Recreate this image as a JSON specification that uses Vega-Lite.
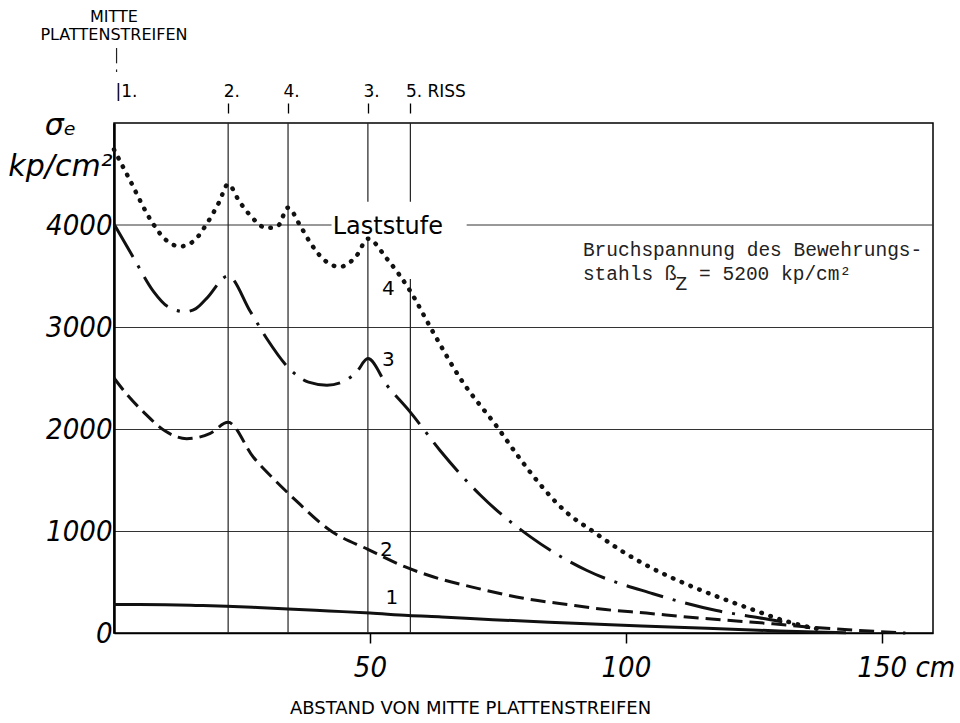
{
  "$schema": "https://vega.github.io/schema/vega-lite/v6.json",
  "width": 819,
  "height": 510,
  "autosize": {"type": "none"},
  "padding": {"left": 114, "top": 123, "right": 27, "bottom": 90},
  "background": "white",
  "config": {"view": {"stroke": "black", "strokeWidth": 1.5}, "font": "DejaVu Sans"},
  "datasets": {
    "curves": [
      {"stage": "1", "x": 0, "y": 280}, {"stage": "1", "x": 5, "y": 279}, {"stage": "1", "x": 10, "y": 276}, {"stage": "1", "x": 16, "y": 270}, {"stage": "1", "x": 22, "y": 262}, {"stage": "1", "x": 28, "y": 250}, {"stage": "1", "x": 34, "y": 236}, {"stage": "1", "x": 42, "y": 216}, {"stage": "1", "x": 50, "y": 196}, {"stage": "1", "x": 57.5, "y": 172}, {"stage": "1", "x": 64, "y": 158}, {"stage": "1", "x": 74, "y": 131}, {"stage": "1", "x": 85, "y": 105}, {"stage": "1", "x": 97, "y": 82}, {"stage": "1", "x": 110, "y": 56}, {"stage": "1", "x": 122, "y": 35}, {"stage": "1", "x": 130, "y": 20}, {"stage": "1", "x": 137, "y": 9}, {"stage": "1", "x": 143, "y": 3},
      {"stage": "2", "x": 0, "y": 2500}, {"stage": "2", "x": 2.5, "y": 2340}, {"stage": "2", "x": 5.7, "y": 2170}, {"stage": "2", "x": 10, "y": 1980}, {"stage": "2", "x": 14.2, "y": 1905}, {"stage": "2", "x": 18.7, "y": 1955}, {"stage": "2", "x": 22.3, "y": 2065}, {"stage": "2", "x": 27.2, "y": 1725}, {"stage": "2", "x": 31, "y": 1520}, {"stage": "2", "x": 35.3, "y": 1310}, {"stage": "2", "x": 42.4, "y": 1000}, {"stage": "2", "x": 49.6, "y": 820}, {"stage": "2", "x": 56.8, "y": 650}, {"stage": "2", "x": 63.7, "y": 530}, {"stage": "2", "x": 70, "y": 450}, {"stage": "2", "x": 80, "y": 340}, {"stage": "2", "x": 90, "y": 270}, {"stage": "2", "x": 96, "y": 230}, {"stage": "2", "x": 104, "y": 195}, {"stage": "2", "x": 112.5, "y": 155}, {"stage": "2", "x": 121.6, "y": 118}, {"stage": "2", "x": 128.7, "y": 90}, {"stage": "2", "x": 135, "y": 62}, {"stage": "2", "x": 145.6, "y": 25}, {"stage": "2", "x": 154.6, "y": 0},
      {"stage": "3", "x": 0, "y": 4010}, {"stage": "3", "x": 3.8, "y": 3680}, {"stage": "3", "x": 7.7, "y": 3350}, {"stage": "3", "x": 10.5, "y": 3200}, {"stage": "3", "x": 13.9, "y": 3150}, {"stage": "3", "x": 16, "y": 3180}, {"stage": "3", "x": 18.1, "y": 3280}, {"stage": "3", "x": 22.3, "y": 3500}, {"stage": "3", "x": 26.6, "y": 3155}, {"stage": "3", "x": 29.8, "y": 2890}, {"stage": "3", "x": 34.2, "y": 2595}, {"stage": "3", "x": 38, "y": 2460}, {"stage": "3", "x": 41.6, "y": 2430}, {"stage": "3", "x": 45, "y": 2470}, {"stage": "3", "x": 47.4, "y": 2560}, {"stage": "3", "x": 49.6, "y": 2690}, {"stage": "3", "x": 53.3, "y": 2430}, {"stage": "3", "x": 57.8, "y": 2170}, {"stage": "3", "x": 63.7, "y": 1790}, {"stage": "3", "x": 71.5, "y": 1355}, {"stage": "3", "x": 81.3, "y": 945}, {"stage": "3", "x": 92.3, "y": 615}, {"stage": "3", "x": 105.3, "y": 385}, {"stage": "3", "x": 117.7, "y": 220}, {"stage": "3", "x": 126, "y": 150}, {"stage": "3", "x": 131, "y": 105}, {"stage": "3", "x": 136, "y": 50},
      {"stage": "4", "x": 0, "y": 4740}, {"stage": "4", "x": 3, "y": 4450}, {"stage": "4", "x": 7.4, "y": 4030}, {"stage": "4", "x": 10, "y": 3860}, {"stage": "4", "x": 12.9, "y": 3790}, {"stage": "4", "x": 15.5, "y": 3840}, {"stage": "4", "x": 18.1, "y": 4010}, {"stage": "4", "x": 20.5, "y": 4220}, {"stage": "4", "x": 22.3, "y": 4400}, {"stage": "4", "x": 24.5, "y": 4230}, {"stage": "4", "x": 26.6, "y": 4095}, {"stage": "4", "x": 29.8, "y": 3970}, {"stage": "4", "x": 32, "y": 3990}, {"stage": "4", "x": 34, "y": 4170}, {"stage": "4", "x": 36.3, "y": 4000}, {"stage": "4", "x": 38.3, "y": 3830}, {"stage": "4", "x": 41, "y": 3660}, {"stage": "4", "x": 44.1, "y": 3590}, {"stage": "4", "x": 47.4, "y": 3700}, {"stage": "4", "x": 49.6, "y": 3865}, {"stage": "4", "x": 53.3, "y": 3670}, {"stage": "4", "x": 57.9, "y": 3350}, {"stage": "4", "x": 62, "y": 2980}, {"stage": "4", "x": 67.6, "y": 2500}, {"stage": "4", "x": 75, "y": 2010}, {"stage": "4", "x": 79, "y": 1730}, {"stage": "4", "x": 83.2, "y": 1460}, {"stage": "4", "x": 88, "y": 1200}, {"stage": "4", "x": 93.6, "y": 995}, {"stage": "4", "x": 99, "y": 810}, {"stage": "4", "x": 105.3, "y": 630}, {"stage": "4", "x": 112, "y": 475}, {"stage": "4", "x": 119, "y": 335}, {"stage": "4", "x": 125, "y": 225}, {"stage": "4", "x": 131, "y": 120}, {"stage": "4", "x": 135, "y": 67}, {"stage": "4", "x": 138, "y": 35}
    ],
    "cracks": [
      {"x": 22.3, "y": 0, "y2": 5000},
      {"x": 34, "y": 0, "y2": 5000},
      {"x": 49.6, "y": 0, "y2": 3865},
      {"x": 49.6, "y": 4228, "y2": 5000},
      {"x": 57.9, "y": 0, "y2": 3470},
      {"x": 57.9, "y": 4228, "y2": 5000},
      {"x": 0.5, "y": 5585, "y2": 5735},
      {"x": 0.5, "y": 5500, "y2": 5525}
    ],
    "grid": [
      {"x": 0, "x2": 42.5, "y": 4000},
      {"x": 68.9, "x2": 160, "y": 4000}
    ],
    "notes": [
      {"role": "stage", "x": 54.3, "y": 344, "text": "1"},
      {"role": "stage", "x": 53.2, "y": 810, "text": "2"},
      {"role": "stage", "x": 53.6, "y": 2680, "text": "3"},
      {"role": "stage", "x": 53.6, "y": 3375, "text": "4"},
      {"role": "laststufe", "x": 53.5, "y": 3985, "text": "Laststufe"},
      {"role": "note", "x": 91.6, "y": 3697, "text": "Bruchspannung des Bewehrungs-"},
      {"role": "note", "x": 91.6, "y": 3461, "text": "stahls ß"},
      {"role": "note", "x": 109.7, "y": 3365, "text": "Z"},
      {"role": "note", "x": 114.3, "y": 3461, "text": "= 5200 kp/cm²"},
      {"role": "mitte", "x": 0, "y": 5988, "text": "MITTE"},
      {"role": "mitte", "x": 0, "y": 5811, "text": "PLATTENSTREIFEN"}
    ]
  },
  "layer": [
    {
      "data": {"name": "grid"},
      "mark": {"type": "rule", "color": "#333", "strokeWidth": 1},
      "encoding": {
        "x": {"field": "x", "type": "quantitative", "scale": {"domain": [0, 160], "nice": false, "zero": false}, "axis": null},
        "x2": {"field": "x2"},
        "y": {"field": "y", "type": "quantitative", "scale": {"domain": [0, 5000], "nice": false, "zero": false}, "axis": null}
      }
    },
    {
      "data": {"name": "cracks"},
      "mark": {"type": "rule", "color": "#222", "strokeWidth": 1.2},
      "encoding": {
        "x": {"field": "x", "type": "quantitative", "scale": {"domain": [0, 160], "nice": false, "zero": false},
          "axis": {"orient": "top", "offset": 10, "values": [0, 22.3, 34, 49.6, 57.9], "domain": false, "grid": false, "tickSize": 10, "tickColor": "black", "tickWidth": 1.3,
            "tickOpacity": {"condition": {"test": "datum.value == 0", "value": 0}, "value": 1},
            "labelExpr": "datum.value == 0 ? '|1.' : datum.value < 30 ? '2.' : datum.value < 40 ? '4.' : datum.value < 55 ? '3.' : '5. RISS'",
            "labelAlign": "left",
            "labelOffset": {"condition": {"test": "datum.value == 0", "value": 1}, "value": -5},
            "labelPadding": 3, "labelFont": "DejaVu Sans", "labelFontSize": 17, "labelColor": "black", "labelFlush": false, "labelOverlap": false, "labelBound": false, "title": null}},
        "y": {"field": "y", "type": "quantitative", "scale": {"domain": [0, 5000], "nice": false, "zero": false}, "axis": null},
        "y2": {"field": "y2"}
      }
    },
    {
      "data": {"name": "curves"},
      "transform": [{"filter": "datum.stage == '1'"}],
      "mark": {"type": "line", "color": "#111", "strokeWidth": 3, "interpolate": "monotone"},
      "encoding": {
        "x": {"field": "x", "type": "quantitative", "scale": {"domain": [0, 160], "nice": false, "zero": false},
          "axis": {"orient": "bottom", "values": [50, 100, 150], "format": "d", "tickSize": 10, "tickColor": "black", "tickWidth": 1.5, "domainColor": "black", "domainWidth": 1.5, "grid": false,
            "labelFont": "DejaVu Sans Condensed, Liberation Sans Narrow, DejaVu Sans", "labelFontStyle": "italic", "labelFontSize": 29, "labelColor": "black", "labelPadding": 10, "labelFlush": false, "labelOverlap": false,
            "labelExpr": "datum.value == 150 ? '150 cm' : datum.label",
            "labelAlign": {"condition": {"test": "datum.value == 150", "value": "left"}, "value": "center"},
            "labelOffset": {"condition": {"test": "datum.value == 150", "value": -25}, "value": 0},
            "title": "ABSTAND VON MITTE PLATTENSTREIFEN", "titleFont": "DejaVu Sans", "titleFontSize": 18, "titleFontWeight": "normal", "titleColor": "black", "titleX": 356, "titleY": 80, "titleBaseline": "alphabetic", "titleAlign": "center"}},
        "y": {"field": "y", "type": "quantitative", "scale": {"domain": [0, 5000], "nice": false, "zero": false},
          "axis": {"orient": "left", "values": [0, 1000, 2000, 3000, 4000], "format": "d", "ticks": false, "domain": true, "domainColor": "black", "domainWidth": 2.5, "grid": true, "gridColor": "#333", "gridWidth": 1,
            "gridOpacity": {"condition": {"test": "datum.value == 0 || datum.value == 4000", "value": 0}, "value": 1},
            "labelFont": "DejaVu Sans Condensed, Liberation Sans Narrow, DejaVu Sans", "labelFontStyle": "italic", "labelFontSize": 29, "labelColor": "black", "labelPadding": 2, "labelFlush": false, "labelOverlap": false, "labelBaseline": "middle",
            "title": ["σₑ", "kp/cm²"], "titleAngle": 0, "titleAlign": "center", "titleBaseline": "alphabetic", "titleX": -54, "titleY": 11, "titleLineHeight": 41, "titleFont": "DejaVu Sans", "titleFontStyle": "italic", "titleFontWeight": "normal", "titleFontSize": 30, "titleColor": "black"}}
      }
    },
    {
      "data": {"name": "curves"},
      "transform": [{"filter": "datum.stage == '2'"}],
      "mark": {"type": "line", "color": "#111", "strokeWidth": 3, "strokeDash": [15, 7], "interpolate": "monotone"},
      "encoding": {
        "x": {"field": "x", "type": "quantitative", "scale": {"domain": [0, 160], "nice": false, "zero": false}, "axis": null},
        "y": {"field": "y", "type": "quantitative", "scale": {"domain": [0, 5000], "nice": false, "zero": false}, "axis": null}
      }
    },
    {
      "data": {"name": "curves"},
      "transform": [{"filter": "datum.stage == '3'"}],
      "mark": {"type": "line", "color": "#111", "strokeWidth": 3, "strokeDash": [38, 10, 3, 10], "interpolate": "monotone"},
      "encoding": {
        "x": {"field": "x", "type": "quantitative", "scale": {"domain": [0, 160], "nice": false, "zero": false}, "axis": null},
        "y": {"field": "y", "type": "quantitative", "scale": {"domain": [0, 5000], "nice": false, "zero": false}, "axis": null}
      }
    },
    {
      "data": {"name": "curves"},
      "transform": [{"filter": "datum.stage == '4'"}],
      "mark": {"type": "line", "color": "#111", "strokeWidth": 4.5, "strokeDash": [0.5, 9], "strokeCap": "round", "interpolate": "monotone"},
      "encoding": {
        "x": {"field": "x", "type": "quantitative", "scale": {"domain": [0, 160], "nice": false, "zero": false}, "axis": null},
        "y": {"field": "y", "type": "quantitative", "scale": {"domain": [0, 5000], "nice": false, "zero": false}, "axis": null}
      }
    },
    {
      "data": {"name": "notes"},
      "transform": [{"filter": "datum.role == 'stage'"}],
      "mark": {"type": "text", "font": "DejaVu Sans", "fontSize": 20, "align": "center", "baseline": "middle", "color": "black"},
      "encoding": {
        "x": {"field": "x", "type": "quantitative", "scale": {"domain": [0, 160], "nice": false, "zero": false}, "axis": null},
        "y": {"field": "y", "type": "quantitative", "scale": {"domain": [0, 5000], "nice": false, "zero": false}, "axis": null},
        "text": {"field": "text"}
      }
    },
    {
      "data": {"name": "notes"},
      "transform": [{"filter": "datum.role == 'laststufe'"}],
      "mark": {"type": "text", "font": "DejaVu Sans", "fontSize": 24, "align": "center", "baseline": "middle", "color": "black"},
      "encoding": {
        "x": {"field": "x", "type": "quantitative", "scale": {"domain": [0, 160], "nice": false, "zero": false}, "axis": null},
        "y": {"field": "y", "type": "quantitative", "scale": {"domain": [0, 5000], "nice": false, "zero": false}, "axis": null},
        "text": {"field": "text"}
      }
    },
    {
      "data": {"name": "notes"},
      "transform": [{"filter": "datum.role == 'note'"}],
      "mark": {"type": "text", "font": "Courier New, Liberation Mono, monospace", "fontSize": 19.5, "align": "left", "baseline": "alphabetic", "color": "#222"},
      "encoding": {
        "x": {"field": "x", "type": "quantitative", "scale": {"domain": [0, 160], "nice": false, "zero": false}, "axis": null},
        "y": {"field": "y", "type": "quantitative", "scale": {"domain": [0, 5000], "nice": false, "zero": false}, "axis": null},
        "text": {"field": "text"}
      }
    },
    {
      "data": {"name": "notes"},
      "transform": [{"filter": "datum.role == 'mitte'"}],
      "mark": {"type": "text", "font": "DejaVu Sans", "fontSize": 16, "align": "center", "baseline": "alphabetic", "color": "black"},
      "encoding": {
        "x": {"field": "x", "type": "quantitative", "scale": {"domain": [0, 160], "nice": false, "zero": false}, "axis": null},
        "y": {"field": "y", "type": "quantitative", "scale": {"domain": [0, 5000], "nice": false, "zero": false}, "axis": null},
        "text": {"field": "text"}
      }
    }
  ],
  "resolve": {"axis": {"x": "independent", "y": "independent"}}
}
